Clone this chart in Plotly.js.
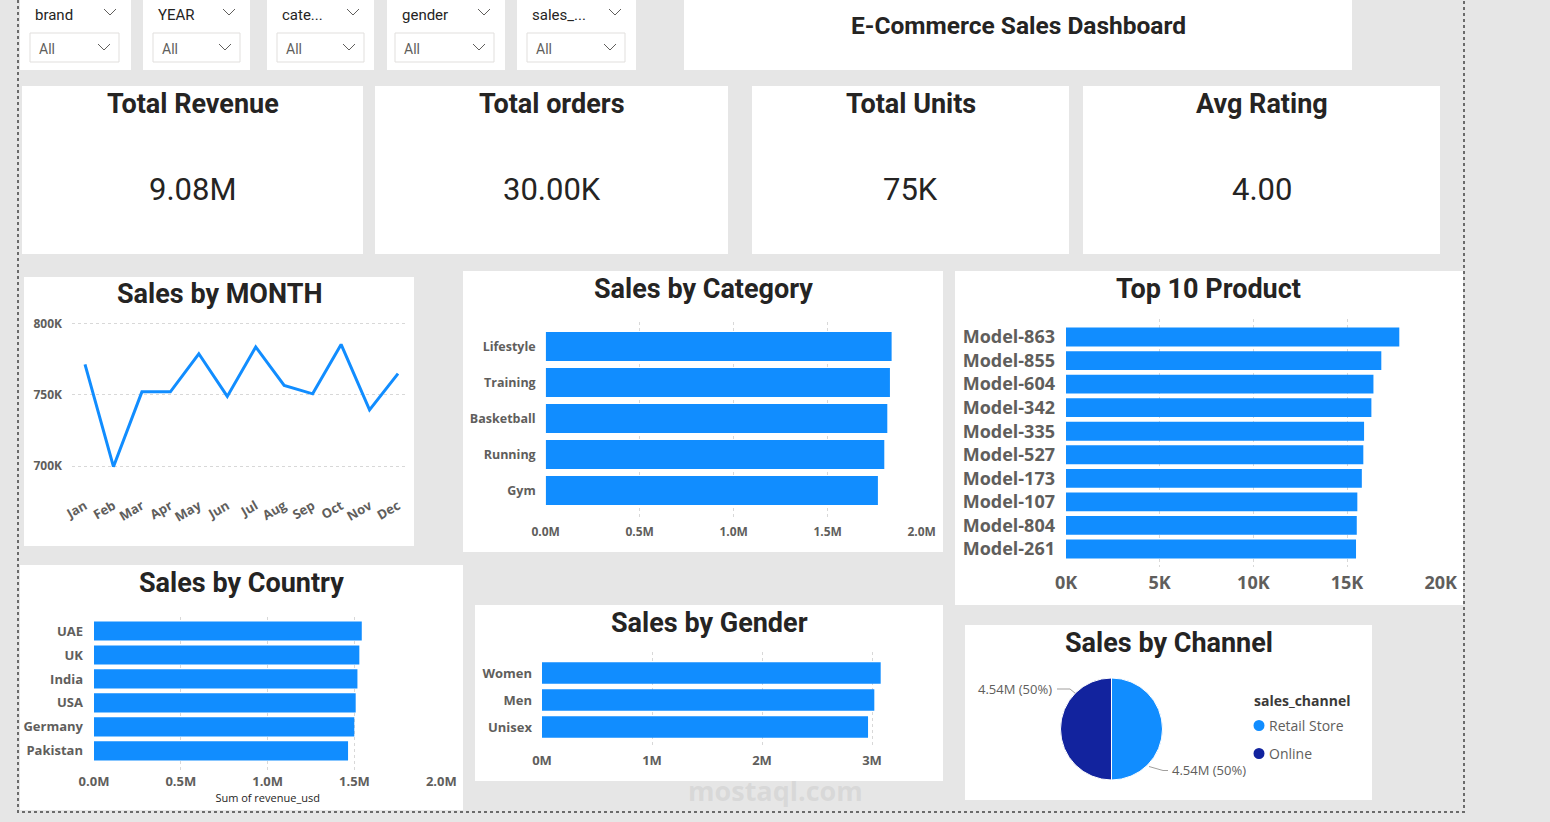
<!DOCTYPE html>
<html>
<head>
<meta charset="utf-8">
<script src="https://cdn.plot.ly/plotly-3.0.1.min.js"></script>
<style>
html,body{margin:0;padding:0;background:#e6e6e6;overflow:hidden;}
#chart{width:1550px;height:822px;}
</style>
</head>
<body>
<div id="chart"></div>
<script>
// ---------------- DATA ----------------
const slicerNames = ['brand', 'YEAR', 'cate...', 'gender', 'sales_...'];
const slicerValues = ['All', 'All', 'All', 'All', 'All'];
const dashboardTitle = 'E-Commerce Sales Dashboard';
const kpiTitles = ['Total Revenue', 'Total orders', 'Total Units', 'Avg Rating'];
const kpiValues = ['9.08M', '30.00K', '75K', '4.00'];

const months = ['Jan','Feb','Mar','Apr','May','Jun','Jul','Aug','Sep','Oct','Nov','Dec'];
const monthSales = [771500, 699500, 752200, 752200, 779000, 749000, 783800, 756700, 750800, 785600, 739500, 765000];
const monthTickVals = [700000, 750000, 800000];
const monthTickText = ['700K', '750K', '800K'];

const categories = ['Lifestyle', 'Training', 'Basketball', 'Running', 'Gym'];
const categorySales = [1840000, 1831000, 1817000, 1801000, 1767000];
const categoryTickVals = [0, 500000, 1000000, 1500000, 2000000];
const categoryTickText = ['0.0M', '0.5M', '1.0M', '1.5M', '2.0M'];

const products = ['Model-863','Model-855','Model-604','Model-342','Model-335','Model-527','Model-173','Model-107','Model-804','Model-261'];
const productSales = [17790, 16830, 16410, 16300, 15910, 15870, 15790, 15550, 15520, 15480];
const productTickVals = [0, 5000, 10000, 15000, 20000];
const productTickText = ['0K', '5K', '10K', '15K', '20K'];

const countries = ['UAE', 'UK', 'India', 'USA', 'Germany', 'Pakistan'];
const countrySales = [1542000, 1528000, 1517000, 1507000, 1499000, 1463000];
const countryTickVals = [0, 500000, 1000000, 1500000, 2000000];
const countryTickText = ['0.0M', '0.5M', '1.0M', '1.5M', '2.0M'];
const countryAxisTitle = 'Sum of revenue_usd';

const genders = ['Women', 'Men', 'Unisex'];
const genderSales = [3079000, 3021000, 2964000];
const genderTickVals = [0, 1000000, 2000000, 3000000];
const genderTickText = ['0M', '1M', '2M', '3M'];

const channels = ['Retail Store', 'Online'];
const channelSales = [4540000, 4540000];
const channelLegendTitle = 'sales_channel';

const chartTitles = ['Sales by MONTH', 'Sales by Category', 'Top 10 Product', 'Sales by Country', 'Sales by Gender', 'Sales by Channel'];

// ---------------- HELPERS ----------------
const W = 1550, H = 822;
const px = x => x / W;
const py = y => 1 - y / H;
const yd = (top, bottom) => [py(bottom), py(top)];
const BLUE = '#118DFF', NAVY = '#12239E', DARK = '#252423', GRAY = '#605e5c';
const shapes = [];
const annotations = [];

function rect(x0, y0, x1, y1, fill, lineColor) {
  shapes.push({type:'rect', xref:'paper', yref:'paper', layer:'below',
    x0:px(x0), x1:px(x1), y0:py(y1), y1:py(y0), fillcolor:fill,
    line:{width: lineColor ? 1 : 0, color: lineColor || fill}});
}
function line(points, color, width, dash) {
  const d = points.map((p, i) => (i ? 'L ' : 'M ') + px(p[0]) + ' ' + py(p[1])).join(' ');
  shapes.push({type:'path', xref:'paper', yref:'paper', path:d, layer:'above',
    line:{color:color, width:width, dash:dash || 'solid'}});
}
function chev(cx, cy) { line([[cx-6, cy-3], [cx, cy+3], [cx+6, cy-3]], '#605e5c', 1); }
function text(t, x, y, size, opts) {
  opts = opts || {};
  annotations.push({text:t, xref:'paper', yref:'paper', x:px(x), y:py(y),
    xanchor:opts.xanchor || 'center', yanchor:'middle', showarrow:false,
    font:{family:opts.family || 'Roboto', size:size, color:opts.color || DARK, weight:opts.weight || 'normal'}});
}

// ---------------- PANELS ----------------
// slicers
const slicerPanels = [[20,131],[143,250],[267,374],[387,505],[517,636]];
const slicerBoxes = [[30,119],[153,240],[277,364],[395,494],[527,625]];
slicerPanels.forEach((p, i) => {
  rect(p[0], 0, p[1], 70, '#ffffff');
  rect(slicerBoxes[i][0], 33, slicerBoxes[i][1], 62, '#ffffff', '#e1dfdd');
  text(slicerNames[i], p[0] + 13, 15, 15, {xanchor:'left'});
  text(slicerValues[i], slicerBoxes[i][0] + 7, 49, 14, {xanchor:'left', color:GRAY});
  chev(p[1] - 21, 12);
  chev(slicerBoxes[i][1] - 15, 47);
});
// title panel
rect(684, 0, 1352, 70, '#ffffff');
text(dashboardTitle, 1018, 25, 24.5, {weight:'bold'});

// KPI cards
const kpiPanels = [[22,363],[375,728],[752,1069],[1083,1440]];
kpiPanels.forEach((p, i) => {
  rect(p[0], 86, p[1], 254, '#ffffff');
  const cx = (p[0] + p[1]) / 2;
  text(kpiTitles[i], cx, 104, 27, {weight:'bold'});
  text(kpiValues[i], cx, 189, 31);
});

// chart panels
const chartPanels = [
  [24, 277, 414, 546, 219, 294],
  [463, 271, 943, 552, 703, 289],
  [955, 271, 1463, 605, 1208, 289],
  [20, 565, 463, 810, 241, 583],
  [475, 605, 943, 781, 709, 623],
  [965, 625, 1372, 800, 1169, 643]
];
chartPanels.forEach((p, i) => {
  rect(p[0], p[1], p[2], p[3], '#ffffff');
  text(chartTitles[i], p[4], p[5], 27, {weight:'bold'});
});

// dotted page border
line([[18, 0], [18, 812], [1464, 812], [1464, 0]], '#6b6b6b', 2, 'dot');

// ---------------- TRACES ----------------
const tickFont = s => ({family:'Open Sans', size:s, color:GRAY, weight:'bold'});
const grid = {showgrid:true, gridcolor:'#d8d8d8', griddash:'dot', gridwidth:1, zeroline:false, showline:false, ticks:'', fixedrange:true};

const traces = [];
traces.push({type:'scatter', mode:'lines', x:months, y:monthSales, xaxis:'x', yaxis:'y',
  line:{color:BLUE, width:3}, hoverinfo:'skip', showlegend:false});

function hbar(cats, vals, ax) {
  traces.push({type:'bar', orientation:'h', x:vals, y:cats, xaxis:'x'+ax, yaxis:'y'+ax,
    marker:{color:BLUE, line:{width:0}}, hoverinfo:'skip', showlegend:false});
}
hbar(categories, categorySales, 2);
hbar(products, productSales, 3);
hbar(countries, countrySales, 4);
hbar(genders, genderSales, 5);

const pieTotal = channelSales.reduce((a, b) => a + b, 0);
traces.push({type:'pie', labels:channels, values:channelSales, sort:false, direction:'clockwise', rotation:0,
  marker:{colors:[BLUE, NAVY], line:{color:'#ffffff', width:1}}, textinfo:'none', hoverinfo:'skip', showlegend:false,
  domain:{x:[px(1060.5), px(1162.5)], y:yd(678, 780)}});

// pie labels + leader lines
const pieLabel = v => (v / 1e6).toFixed(2) + 'M (' + Math.round(v / pieTotal * 100) + '%)';
line([[1057, 689], [1070, 689], [1075.5, 693.5]], '#a19f9d', 1);
line([[1149, 766.5], [1163, 770.5], [1168, 770.5]], '#a19f9d', 1);
text(pieLabel(channelSales[1]), 1054, 689, 13, {xanchor:'right', family:'Open Sans', color:GRAY});
text(pieLabel(channelSales[0]), 1170, 770, 13, {xanchor:'left', family:'Open Sans', color:GRAY});

// legend
text(channelLegendTitle, 1252, 700, 14, {xanchor:'left', family:'Open Sans', color:'#3b3a39', weight:'bold'});
const legendColors = [BLUE, NAVY];
channels.forEach((c, i) => {
  const cy = 725.5 + i * 28;
  shapes.push({type:'circle', xref:'paper', yref:'paper', x0:px(1253.5), x1:px(1264.5), y0:py(cy+5.5), y1:py(cy-5.5),
    fillcolor:legendColors[i], line:{width:0}, layer:'above'});
  text(c, 1267, cy, 14, {xanchor:'left', family:'Open Sans', color:GRAY});
});

// watermark (site mark)
text('mostaql.com', 775, 790, 27, {family:'Open Sans', weight:'bold', color:'rgba(200,200,200,0.45)'});

// ---------------- LAYOUT ----------------
const layout = {
  width:W, height:H, autosize:false,
  margin:{l:0, r:0, t:0, b:0, pad:0},
  paper_bgcolor:'#e6e6e6', plot_bgcolor:'rgba(0,0,0,0)',
  showlegend:false, hovermode:false,
  shapes:shapes, annotations:annotations,
  xaxis:{domain:[px(72), px(407)], anchor:'y', type:'category', range:[-0.457, 11.316],
    showgrid:false, zeroline:false, showline:false, ticks:'', tickangle:-30, tickfont:tickFont(13), ticklabelstandoff:5, fixedrange:true},
  yaxis:Object.assign({}, grid, {domain:yd(317, 490), anchor:'x', range:[683100, 804900],
    tickvals:monthTickVals, ticktext:monthTickText, tickfont:tickFont(12), ticklabelstandoff:9}),

  xaxis2:Object.assign({}, grid, {domain:[px(545.7), px(921.7)], anchor:'y2', range:[0, 2000000],
    tickvals:categoryTickVals, ticktext:categoryTickText, tickfont:tickFont(12), ticklabelstandoff:3}),
  yaxis2:{domain:yd(322, 520), anchor:'x2', type:'category', range:[4.82, -0.68], showgrid:false, zeroline:false,
    ticks:'', tickfont:tickFont(12.5), ticklabelstandoff:9, fixedrange:true},

  xaxis3:Object.assign({}, grid, {domain:[px(1066), px(1440.7)], anchor:'y3', range:[0, 20000],
    tickvals:productTickVals, ticktext:productTickText, tickfont:tickFont(18), ticklabelstandoff:3}),
  yaxis3:{domain:yd(319, 567), anchor:'x3', type:'category', range:[9.764, -0.764], showgrid:false, zeroline:false,
    ticks:'', tickfont:tickFont(18), ticklabelstandoff:10, fixedrange:true},

  xaxis4:Object.assign({}, grid, {domain:[px(94), px(441.3)], anchor:'y4', range:[0, 2000000],
    tickvals:countryTickVals, ticktext:countryTickText, tickfont:tickFont(13), ticklabelstandoff:2,
    title:{text:countryAxisTitle, font:{family:'Open Sans', size:11, color:DARK}, standoff:4}}),
  yaxis4:{domain:yd(616.7, 770), anchor:'x4', type:'category', range:[5.80, -0.597], showgrid:false, zeroline:false,
    ticks:'', tickfont:tickFont(13), ticklabelstandoff:10, fixedrange:true},

  xaxis5:Object.assign({}, grid, {domain:[px(542), px(894)], anchor:'y5', range:[0, 3200000],
    tickvals:genderTickVals, ticktext:genderTickText, tickfont:tickFont(13), ticklabelstandoff:4}),
  yaxis5:{domain:yd(652, 747), anchor:'x5', type:'category', range:[2.741, -0.778], showgrid:false, zeroline:false,
    ticks:'', tickfont:tickFont(13), ticklabelstandoff:9, fixedrange:true}
};

Plotly.newPlot('chart', traces, layout, {staticPlot:true, displayModeBar:false});
</script>
</body>
</html>
